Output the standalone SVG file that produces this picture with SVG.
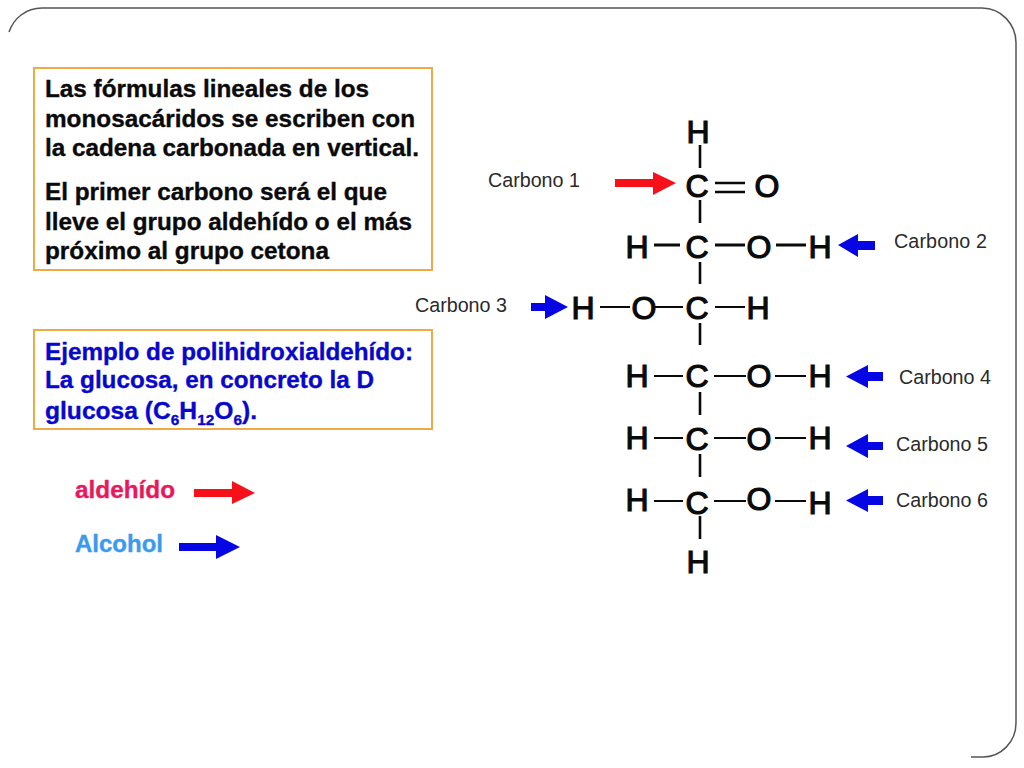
<svg xmlns="http://www.w3.org/2000/svg" width="1024" height="768" viewBox="0 0 1024 768">
<style>
text{font-family:"Liberation Sans",Arial,sans-serif}
.box{fill:#fff;stroke:#eeaa44;stroke-width:2}
.t{font-size:24px;font-weight:700;fill:#0a0a0a;stroke:#0a0a0a;stroke-width:.35}
.b{font-size:24px;font-weight:700;fill:#0808cc;stroke:#0808cc;stroke-width:.35}
.sub{font-size:15px}
.atom{font-size:32px;fill:#0a0a0a;stroke:#0a0a0a;stroke-width:1.2;text-anchor:middle}
.lab{font-size:19.7px;fill:#2a2a2a}
.bond{stroke:#0a0a0a;stroke-width:2.6;fill:none}
.red{fill:#f5101a}
.blue{fill:#0606e4}
</style>
<rect width="1024" height="768" fill="#fff"/>
<path id="frame" d="M9 32C14 18 26 8 42 8H982C1001 8 1016 24 1016 43V723C1016 742 1001 757 983 757H971" fill="none" stroke="#555" stroke-width="1.5"/>

<g id="box-definicion">
<rect class="box" x="34" y="68" width="398" height="202"/>
<text class="t" x="45" y="97" textLength="324" lengthAdjust="spacingAndGlyphs">Las fórmulas lineales de los</text>
<text class="t" x="45" y="127" textLength="370" lengthAdjust="spacingAndGlyphs">monosacáridos se escriben con</text>
<text class="t" x="45" y="156" textLength="374" lengthAdjust="spacingAndGlyphs">la cadena carbonada en vertical.</text>
<text class="t" x="45" y="200" textLength="342" lengthAdjust="spacingAndGlyphs">El primer carbono será el que</text>
<text class="t" x="45" y="230" textLength="367" lengthAdjust="spacingAndGlyphs">lleve el grupo aldehído o el más</text>
<text class="t" x="45" y="259" textLength="284" lengthAdjust="spacingAndGlyphs">próximo al grupo cetona</text>
</g>

<g id="box-ejemplo">
<rect class="box" x="34" y="330" width="398" height="99"/>
<text class="b" x="45" y="360" textLength="368" lengthAdjust="spacingAndGlyphs">Ejemplo de polihidroxialdehído:</text>
<text class="b" x="45" y="388" textLength="329" lengthAdjust="spacingAndGlyphs">La glucosa, en concreto la D</text>
<text class="b" x="45" y="419" textLength="212" lengthAdjust="spacingAndGlyphs">glucosa (C<tspan class="sub" dy="6">6</tspan><tspan dy="-6">H</tspan><tspan class="sub" dy="6">12</tspan><tspan dy="-6">O</tspan><tspan class="sub" dy="6">6</tspan><tspan dy="-6">).</tspan></text>
</g>

<g id="leyenda-aldehido"><text x="75" y="498" font-size="24" font-weight="700" fill="#e8185c" stroke="#e8185c" stroke-width=".35" textLength="100" lengthAdjust="spacingAndGlyphs">aldehído</text></g>
<g id="leyenda-alcohol"><text x="75" y="552" font-size="24" font-weight="700" fill="#3a9aee" stroke="#3a9aee" stroke-width=".35" textLength="88" lengthAdjust="spacingAndGlyphs">Alcohol</text></g>

<g id="molecula" transform="translate(0 1)">
<g id="h-top"><text class="atom" x="698" y="142">H</text></g>
<g id="c1"><text class="atom" x="697" y="196">C</text><text class="atom" x="767" y="196">O</text></g>
<g id="c2"><text class="atom" x="637" y="257">H</text><text class="atom" x="697" y="257">C</text><text class="atom" x="759" y="257">O</text><text class="atom" x="820" y="257">H</text></g>
<g id="c3"><text class="atom" x="583" y="318">H</text><text class="atom" x="644" y="318">O</text><text class="atom" x="697" y="318">C</text><text class="atom" x="758" y="318">H</text></g>
<g id="c4"><text class="atom" x="637" y="386">H</text><text class="atom" x="697" y="386">C</text><text class="atom" x="759" y="386">O</text><text class="atom" x="820" y="386">H</text></g>
<g id="c5"><text class="atom" x="637" y="448">H</text><text class="atom" x="697" y="449">C</text><text class="atom" x="759" y="449">O</text><text class="atom" x="820" y="448">H</text></g>
<g id="c6"><text class="atom" x="637" y="510">H</text><text class="atom" x="697" y="513">C</text><text class="atom" x="759" y="509">O</text><text class="atom" x="820" y="513">H</text></g>
<g id="h-bottom"><text class="atom" x="698" y="572">H</text></g>
</g>

<g id="etiquetas">
<g id="carbono-1"><text class="lab" x="488" y="187">Carbono 1</text></g>
<g id="carbono-2"><text class="lab" x="894" y="248" textLength="93">Carbono 2</text></g>
<g id="carbono-3"><text class="lab" x="415" y="312">Carbono 3</text></g>
<g id="carbono-4"><text class="lab" x="899" y="384">Carbono 4</text></g>
<g id="carbono-5"><text class="lab" x="896" y="451">Carbono 5</text></g>
<g id="carbono-6"><text class="lab" x="896" y="507">Carbono 6</text></g>
</g>

<g id="conectores">
<path class="bond" d="M700 145V168M700 200V223M700 262V284M700 323V345M700 392V415M700 454V477M700 516V539"/>
<path class="bond" d="M715 183H745M715 192H745"/>
<path class="bond" style="stroke-width:3" d="M654 245H680M715 245H745M776 245H806"/>
<path class="bond" style="stroke-width:2" d="M600 307H630M655 307H683M715 307H745"/>
<path class="bond" style="stroke-width:2" d="M654 376H683M714 376H746M775 376H806M654 438H683M714 438H746M775 438H806M654 501H683M714 501H746M775 501H806"/>
<polygon class="red" points="194,489 232,489 232,481 255,493 232,504 232,497 194,497"/>
<polygon class="blue" points="179,543 216,543 216,535 240,547 216,559 216,551 179,551"/>
<polygon class="red" points="615,179 653,179 653,172 676,183 653,195 653,187 615,187"/>
<polygon class="blue" points="875,241 858,241 858,234 838,245 858,257 858,250 875,250"/>
<polygon class="blue" points="531,303 545,303 545,295 568,307 545,319 545,311 531,311"/>
<polygon class="blue" points="883,372 868,372 868,365 846,376.500 868,388 868,381 883,381"/>
<polygon class="blue" points="883,442 868,442 868,434 846,446 868,458 868,450 883,450"/>
<polygon class="blue" points="883,496 868,496 868,489 846,500.500 868,512 868,505 883,505"/>
</g>
</svg>
